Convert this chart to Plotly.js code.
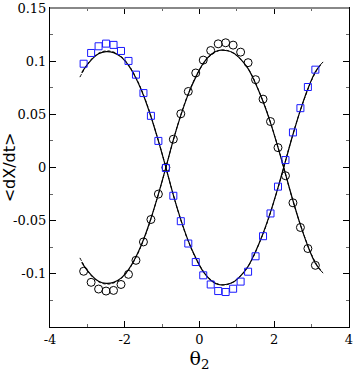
<!DOCTYPE html>
<html>
<head>
<meta charset="utf-8">
<script src="https://cdn.plot.ly/plotly-3.0.1.min.js"></script>
<style>
  body { margin: 0; background: #fff; }
  #plot { width: 354px; height: 382px; }
  #plot .xtick text, #plot .ytick text {
    font-family: 'DejaVu Serif', serif !important;
    font-size: 13px !important;
    fill: #000 !important;
  }
  #plot .xtitle {
    font-family: 'DejaVu Serif', serif !important;
    font-size: 19px !important;
    fill: #000 !important;
  }
  #plot .ytitle {
    font-family: 'DejaVu Sans', sans-serif !important;
    font-size: 16px !important;
    fill: #000 !important;
  }
</style>
</head>
<body>
<div id="plot"></div>
<script>
// data
const thetaPts = [-3.1, -2.9, -2.7, -2.5, -2.3, -2.1, -1.9, -1.7, -1.5, -1.3, -1.1, -0.9,
    -0.7, -0.5, -0.3, -0.1, 0.1, 0.3, 0.5, 0.7, 0.9, 1.1, 1.3, 1.5, 1.7, 1.9, 2.1, 2.3,
    2.5, 2.7, 2.9, 3.1];
const circleVals = [-0.0976, -0.108, -0.1143, -0.1162, -0.1156, -0.110, -0.1005, -0.0873,
    -0.070, -0.0489, -0.025, 0.0, 0.0266, 0.0505, 0.0715, 0.0889, 0.101, 0.110, 0.1163,
    0.1173, 0.1151, 0.1085, 0.0986, 0.0826, 0.0643, 0.0432, 0.0187, -0.0077, -0.0332,
    -0.0564, -0.0762, -0.092];
const squareVals = [0.0976, 0.1077, 0.114, 0.1165, 0.1153, 0.1096, 0.1002, 0.0873,
    0.070, 0.0486, 0.025, -0.0005, -0.0266, -0.0505, -0.0715, -0.0889, -0.1014, -0.110,
    -0.1162, -0.1171, -0.114, -0.1073, -0.098, -0.0835, -0.0646, -0.0432, -0.018, 0.007,
    0.033, 0.0558, 0.0757, 0.092];

const thetaLine = [-3.15, -3.1, -2.9, -2.7, -2.5, -2.3, -2.1, -1.9, -1.7, -1.5, -1.3, -1.1,
    -0.9, -0.7, -0.5, -0.3, -0.1, 0.1, 0.3, 0.5, 0.7, 0.9, 1.1, 1.3, 1.5, 1.7, 1.9, 2.1,
    2.3, 2.5, 2.7, 2.9, 3.1, 3.25];
const circleLine = [-0.089, -0.092, -0.101, -0.107, -0.109, -0.108, -0.104, -0.096, -0.084,
    -0.068, -0.048, -0.025, 0.0, 0.026, 0.049, 0.069, 0.085, 0.098, 0.106, 0.110, 0.110,
    0.108, 0.102, 0.093, 0.079, 0.062, 0.042, 0.019, -0.006, -0.031, -0.054, -0.074,
    -0.090, -0.097];
const squareLine = [0.089, 0.092, 0.101, 0.107, 0.109, 0.108, 0.104, 0.096, 0.084,
    0.068, 0.048, 0.025, 0.0, -0.026, -0.049, -0.069, -0.085, -0.098, -0.106, -0.110, -0.110,
    -0.108, -0.102, -0.093, -0.079, -0.062, -0.042, -0.019, 0.006, 0.031, 0.054, 0.074,
    0.090, 0.097];

// dashed fits, slightly longer than the solid ones
const thetaDash = [-3.2, -3.0, -2.8, -2.6, -2.4, -2.2, -2.0, -1.8, -1.6, -1.4, -1.2, -1.0,
    -0.8, -0.6, -0.4, -0.2, 0.0, 0.2, 0.4, 0.6, 0.8, 1.0, 1.2, 1.4, 1.6, 1.8, 2.0, 2.2,
    2.4, 2.6, 2.8, 3.0, 3.2, 3.33];
const circleDash = [-0.085, -0.097, -0.105, -0.109, -0.1095, -0.107, -0.101, -0.091, -0.077,
    -0.059, -0.037, -0.013, 0.013, 0.038, 0.060, 0.078, 0.092, 0.102, 0.108, 0.1105, 0.1095,
    0.105, 0.098, 0.087, 0.071, 0.053, 0.031, 0.007, -0.019, -0.043, -0.064, -0.082,
    -0.095, -0.100];
const squareDash = [0.085, 0.097, 0.105, 0.109, 0.1095, 0.107, 0.101, 0.091, 0.077,
    0.059, 0.037, 0.013, -0.013, -0.038, -0.060, -0.078, -0.092, -0.102, -0.108, -0.1105, -0.1095,
    -0.105, -0.098, -0.087, -0.071, -0.053, -0.031, -0.007, 0.019, 0.043, 0.064, 0.082,
    0.095, 0.100];

const xTicks = [-4, -2, 0, 2, 4];
const yTicks = [-0.1, -0.05, 0, 0.05, 0.1, 0.15];
const yTickText = ['-0.1', '-0.05', '0', '0.05', '0.1', '0.15'];

// traces
let traces = [
    {x: thetaDash, y: circleDash, mode: 'lines', line: {color: '#000', width: 1, dash: '3px,2px', shape: 'spline'}},
    {x: thetaDash, y: squareDash, mode: 'lines', line: {color: '#000', width: 1, dash: '3px,2px', shape: 'spline'}},
    {x: thetaLine, y: circleLine, mode: 'lines', line: {color: '#000', width: 1.2, shape: 'spline'}},
    {x: thetaLine, y: squareLine, mode: 'lines', line: {color: '#000', width: 1.2, shape: 'spline'}},
    {x: thetaPts, y: circleVals, mode: 'markers',
        marker: {symbol: 'circle-open', size: 8, color: '#000', line: {width: 1}}},
    {x: thetaPts, y: squareVals, mode: 'markers',
        marker: {symbol: 'square-open', size: 7, color: '#1a1aff', line: {width: 1}}}
];

let serifFont = 'DejaVu Serif';

let layout = {
    width: 354,
    height: 382,
    showlegend: false,
    font: {family: serifFont, size: 13, color: 'black'},
    paper_bgcolor: 'white',
    plot_bgcolor: 'white',
    margin: {l: 50, r: 5, t: 8, b: 55},
    xaxis: {
        range: [-4, 4],
        tickmode: 'array',
        tickvals: xTicks,
        ticktext: xTicks.map(String),
        ticks: 'inside', ticklen: 6, tickcolor: 'black',
        minor: {dtick: 1, ticks: 'inside', ticklen: 3, tickcolor: '#666'},
        showgrid: false, zeroline: false,
        showline: true, linecolor: 'black', linewidth: 1, mirror: 'ticks',
        ticklabeloverflow: 'allow',
        tickfont: {family: serifFont, size: 13, color: 'black'},
        title: {text: 'θ<sub>2</sub>', font: {family: serifFont, size: 19, color: 'black'}, standoff: 4}
    },
    yaxis: {
        range: [-0.15, 0.15],
        tickmode: 'array',
        tickvals: yTicks,
        ticktext: yTickText,
        ticks: 'inside', ticklen: 6, tickcolor: 'black',
        minor: {dtick: 0.025, ticks: 'inside', ticklen: 3, tickcolor: '#666'},
        showgrid: false, zeroline: false,
        showline: true, linecolor: 'black', linewidth: 1, mirror: 'ticks',
        ticklabeloverflow: 'allow',
        tickfont: {family: serifFont, size: 13, color: 'black'},
        title: {text: '&lt;dX/dt&gt;', font: {family: 'DejaVu Sans', size: 16, color: 'black'}, standoff: 2}
    },
    shapes: [
        {type: 'line', xref: 'paper', yref: 'paper', x0: 0, x1: 1, y0: 1, y1: 1,
            line: {color: '#888', width: 2}}
    ]
};

Plotly.newPlot('plot', traces, layout, {displayModeBar: false});
</script>
</body>
</html>
